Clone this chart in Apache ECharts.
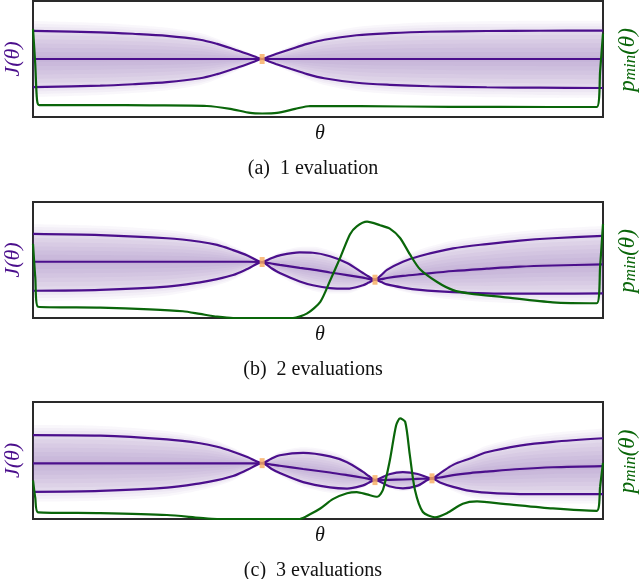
<!DOCTYPE html>
<html>
<head>
<meta charset="utf-8">
<script src="https://cdn.jsdelivr.net/npm/echarts@6/dist/echarts.min.js"></script>
<style>
  html, body { margin: 0; padding: 0; background: #fff; }
  #chart { width: 640px; height: 579px; }
</style>
</head>
<body>
<div id="chart"></div>
<script>
// theta runs 0..1 across each box, J(theta) on -2..2, p_min(theta) on 0..1

// (a) 1 evaluation
const thetaA = [0, 0.118, 0.175, 0.235, 0.293, 0.323, 0.351, 0.377, 0.389, 0.402, 0.414, 0.426, 0.453, 0.481, 0.511, 0.568, 0.626, 0.696, 0.796, 0.889, 1];
const upperA = [0.97, 0.92, 0.87, 0.80, 0.665, 0.52, 0.345, 0.17, 0.085, 0, 0.085, 0.17, 0.345, 0.52, 0.665, 0.82, 0.89, 0.94, 0.965, 0.975, 0.98];
const meanA = [0, 0, 0, 0, 0, 0, 0, 0, 0, 0, 0, 0, 0, 0, 0, 0, 0, 0, 0, 0, 0];
const lowerA = [-0.97, -0.92, -0.87, -0.80, -0.665, -0.52, -0.345, -0.17, -0.085, 0, -0.085, -0.17, -0.345, -0.52, -0.665, -0.82, -0.89, -0.94, -0.975, -0.99, -1.0];
const pThetaA = [0, 0.004, 0.007, 0.011, 0.118, 0.205, 0.305, 0.346, 0.381, 0.402, 0.428, 0.46, 0.486, 0.574, 0.732, 0.907, 0.989, 0.995, 1];
const pminA = [0.76, 0.45, 0.15, 0.103, 0.103, 0.10, 0.095, 0.07, 0.035, 0.03, 0.035, 0.07, 0.095, 0.093, 0.088, 0.086, 0.086, 0.4, 0.72];
const obsThetaA = [0.402];
const obsJA = [0];

// (b) 2 evaluations
const thetaB = [0, 0.118, 0.235, 0.293, 0.323, 0.351, 0.377, 0.402, 0.418, 0.433, 0.468, 0.491, 0.521, 0.551, 0.579, 0.589, 0.6, 0.611, 0.621, 0.649, 0.679, 0.737, 0.796, 0.854, 0.912, 1];
const upperB = [0.90, 0.86, 0.75, 0.63, 0.52, 0.34, 0.15, -0.07, 0.06, 0.16, 0.26, 0.25, 0.13, -0.10, -0.45, -0.57, -0.68, -0.52, -0.34, -0.06, 0.14, 0.40, 0.55, 0.67, 0.75, 0.83];
const meanB = [-0.06, -0.06, -0.06, -0.06, -0.06, -0.06, -0.06, -0.07, -0.12, -0.17, -0.27, -0.33, -0.43, -0.52, -0.61, -0.65, -0.68, -0.66, -0.62, -0.55, -0.49, -0.38, -0.30, -0.23, -0.19, -0.15];
const lowerB = [-1.06, -1.03, -0.92, -0.77, -0.66, -0.52, -0.30, -0.07, -0.28, -0.45, -0.74, -0.87, -0.97, -0.99, -0.87, -0.78, -0.68, -0.76, -0.84, -0.95, -1.03, -1.11, -1.15, -1.16, -1.16, -1.15];
const pThetaB = [0, 0.004, 0.009, 0.118, 0.205, 0.263, 0.293, 0.323, 0.351, 0.456, 0.481, 0.504, 0.521, 0.539, 0.556, 0.568, 0.586, 0.609, 0.626, 0.644, 0.661, 0.679, 0.709, 0.737, 0.767, 0.825, 0.912, 0.989, 0.995, 1];
const pminB = [0.64, 0.35, 0.097, 0.089, 0.075, 0.058, 0.035, 0.012, 0, 0, 0.04, 0.14, 0.32, 0.52, 0.72, 0.79, 0.83, 0.80, 0.77, 0.69, 0.55, 0.42, 0.31, 0.24, 0.21, 0.18, 0.135, 0.127, 0.45, 0.81];
const obsThetaB = [0.402, 0.6];
const obsJB = [-0.07, -0.68];

// (c) 3 evaluations
const thetaC = [0, 0.118, 0.235, 0.293, 0.323, 0.351, 0.377, 0.402, 0.418, 0.433, 0.474, 0.521, 0.551, 0.579, 0.589, 0.6, 0.625, 0.649, 0.675, 0.7, 0.714, 0.737, 0.767, 0.796, 0.854, 0.912, 1];
const upperC = [0.87, 0.85, 0.72, 0.59, 0.47, 0.30, 0.11, -0.09, 0.06, 0.18, 0.26, 0.14, -0.06, -0.39, -0.53, -0.66, -0.47, -0.40, -0.46, -0.61, -0.44, -0.15, 0.07, 0.28, 0.51, 0.64, 0.76];
const meanC = [-0.10, -0.10, -0.10, -0.10, -0.10, -0.10, -0.10, -0.09, -0.14, -0.18, -0.29, -0.41, -0.50, -0.59, -0.63, -0.67, -0.66, -0.65, -0.63, -0.61, -0.58, -0.50, -0.43, -0.38, -0.29, -0.23, -0.19];
const lowerC = [-1.07, -1.04, -0.93, -0.78, -0.67, -0.53, -0.31, -0.09, -0.28, -0.43, -0.74, -0.92, -0.96, -0.85, -0.76, -0.67, -0.88, -0.95, -0.86, -0.61, -0.75, -0.90, -1.04, -1.10, -1.15, -1.15, -1.15];
const pThetaC = [0, 0.004, 0.009, 0.118, 0.235, 0.293, 0.323, 0.468, 0.486, 0.504, 0.526, 0.551, 0.568, 0.586, 0.604, 0.614, 0.626, 0.637, 0.644, 0.653, 0.661, 0.67, 0.684, 0.705, 0.726, 0.754, 0.779, 0.825, 0.912, 0.989, 0.995, 1];
const pminC = [0.33, 0.18, 0.057, 0.05, 0.034, 0.01, 0, 0, 0.04, 0.09, 0.17, 0.22, 0.23, 0.21, 0.19, 0.25, 0.50, 0.80, 0.86, 0.83, 0.55, 0.25, 0.06, 0.015, 0.05, 0.13, 0.15, 0.13, 0.09, 0.07, 0.28, 0.48];
const obsThetaC = [0.402, 0.6, 0.7];
const obsJC = [-0.09, -0.67, -0.61];

const captions = ['(a)  1 evaluation', '(b)  2 evaluations', '(c)  3 evaluations'];

const panels = [
  { top: 1, height: 116, theta: thetaA, upper: upperA, mean: meanA, lower: lowerA, pTheta: pThetaA, pmin: pminA, obsTheta: obsThetaA, obsJ: obsJA },
  { top: 202, height: 116, theta: thetaB, upper: upperB, mean: meanB, lower: lowerB, pTheta: pThetaB, pmin: pminB, obsTheta: obsThetaB, obsJ: obsJB },
  { top: 402, height: 117, theta: thetaC, upper: upperC, mean: meanC, lower: lowerC, pTheta: pThetaC, pmin: pminC, obsTheta: obsThetaC, obsJ: obsJC },
];

const purple = '#4b0f8c';
const green = '#0a660a';
// shaded bands as fractions of the upper/lower spread, thin layers on top of each other
const bandSteps = [1.35, 1.25, 1.15, 1.05, 0.95, 0.85, 0.7, 0.55, 0.4, 0.25, 0.1];

let grid = [], xAxis = [], yAxis = [], series = [], graphic = [];

panels.forEach((p, k) => {
  grid.push({ left: 33, width: 570, top: p.top, height: p.height, show: true,
    borderColor: '#2a2a2a', borderWidth: 2, backgroundColor: '#fff' });
  xAxis.push({ gridIndex: k, type: 'value', min: 0, max: 1, show: false });
  yAxis.push({ gridIndex: k, type: 'value', min: -2, max: 2, show: false });
  yAxis.push({ gridIndex: k, type: 'value', min: 0, max: 1, show: false });

  // each band is one closed loop: along the top edge, then back along the bottom edge
  bandSteps.forEach(f => {
    const top = p.theta.map((t, i) => [t, p.mean[i] + f * (p.upper[i] - p.mean[i])]);
    const bottom = p.theta.map((t, i) => [t, p.mean[i] + f * (p.lower[i] - p.mean[i])]).reverse();
    series.push({ type: 'line', xAxisIndex: k, yAxisIndex: 2 * k, data: top.concat(bottom),
      symbol: 'none', smooth: 0.3, lineStyle: { opacity: 0 },
      areaStyle: { color: '#6b4e9b', opacity: 0.042 }, silent: true, z: 1 });
  });

  [p.upper, p.mean, p.lower].forEach(arr => {
    series.push({ type: 'line', xAxisIndex: k, yAxisIndex: 2 * k, data: p.theta.map((t, i) => [t, arr[i]]),
      symbol: 'none', smooth: 0.3, lineStyle: { color: purple, width: 2.2 }, z: 3 });
  });

  series.push({ type: 'line', xAxisIndex: k, yAxisIndex: 2 * k + 1, data: p.pTheta.map((t, i) => [t, p.pmin[i]]),
    symbol: 'none', smooth: 0.25, lineStyle: { color: green, width: 2.2 }, z: 4 });

  series.push({ type: 'scatter', xAxisIndex: k, yAxisIndex: 2 * k, data: p.obsTheta.map((t, i) => [t, p.obsJ[i]]),
    symbol: 'rect', symbolSize: [5, 10], itemStyle: { color: '#f7ab5e' }, z: 5 });

  const mid = p.top + p.height / 2;
  graphic.push({ type: 'text', x: 13, y: mid, rotation: Math.PI / 2,
    style: { text: 'J(θ)', fill: purple, font: 'italic 22px "Liberation Serif"', align: 'center', verticalAlign: 'middle' } });
  graphic.push({ type: 'text', x: 628, y: mid + 1, rotation: Math.PI / 2,
    style: { text: '{p|p}{s|min}{p|(θ)}', align: 'center', verticalAlign: 'middle',
      rich: {
        p: { fill: green, font: 'italic 23px "Liberation Serif"', verticalAlign: 'bottom' },
        s: { fill: green, font: 'italic 17px "Liberation Serif"', verticalAlign: 'bottom' }
      } } });
  graphic.push({ type: 'text', x: 320, y: p.top + p.height + 17,
    style: { text: 'θ', fill: '#111', font: 'italic 20px "Liberation Serif"', align: 'center', verticalAlign: 'middle' } });
  graphic.push({ type: 'text', x: 313, y: p.top + p.height + 52,
    style: { text: captions[k], fill: '#111', font: '20px "Liberation Serif"', align: 'center', verticalAlign: 'middle' } });
});

const chart = echarts.init(document.getElementById('chart'));
chart.setOption({
  animation: false,
  backgroundColor: '#fff',
  grid: grid,
  xAxis: xAxis,
  yAxis: yAxis,
  series: series,
  graphic: graphic
});
</script>
</body>
</html>
